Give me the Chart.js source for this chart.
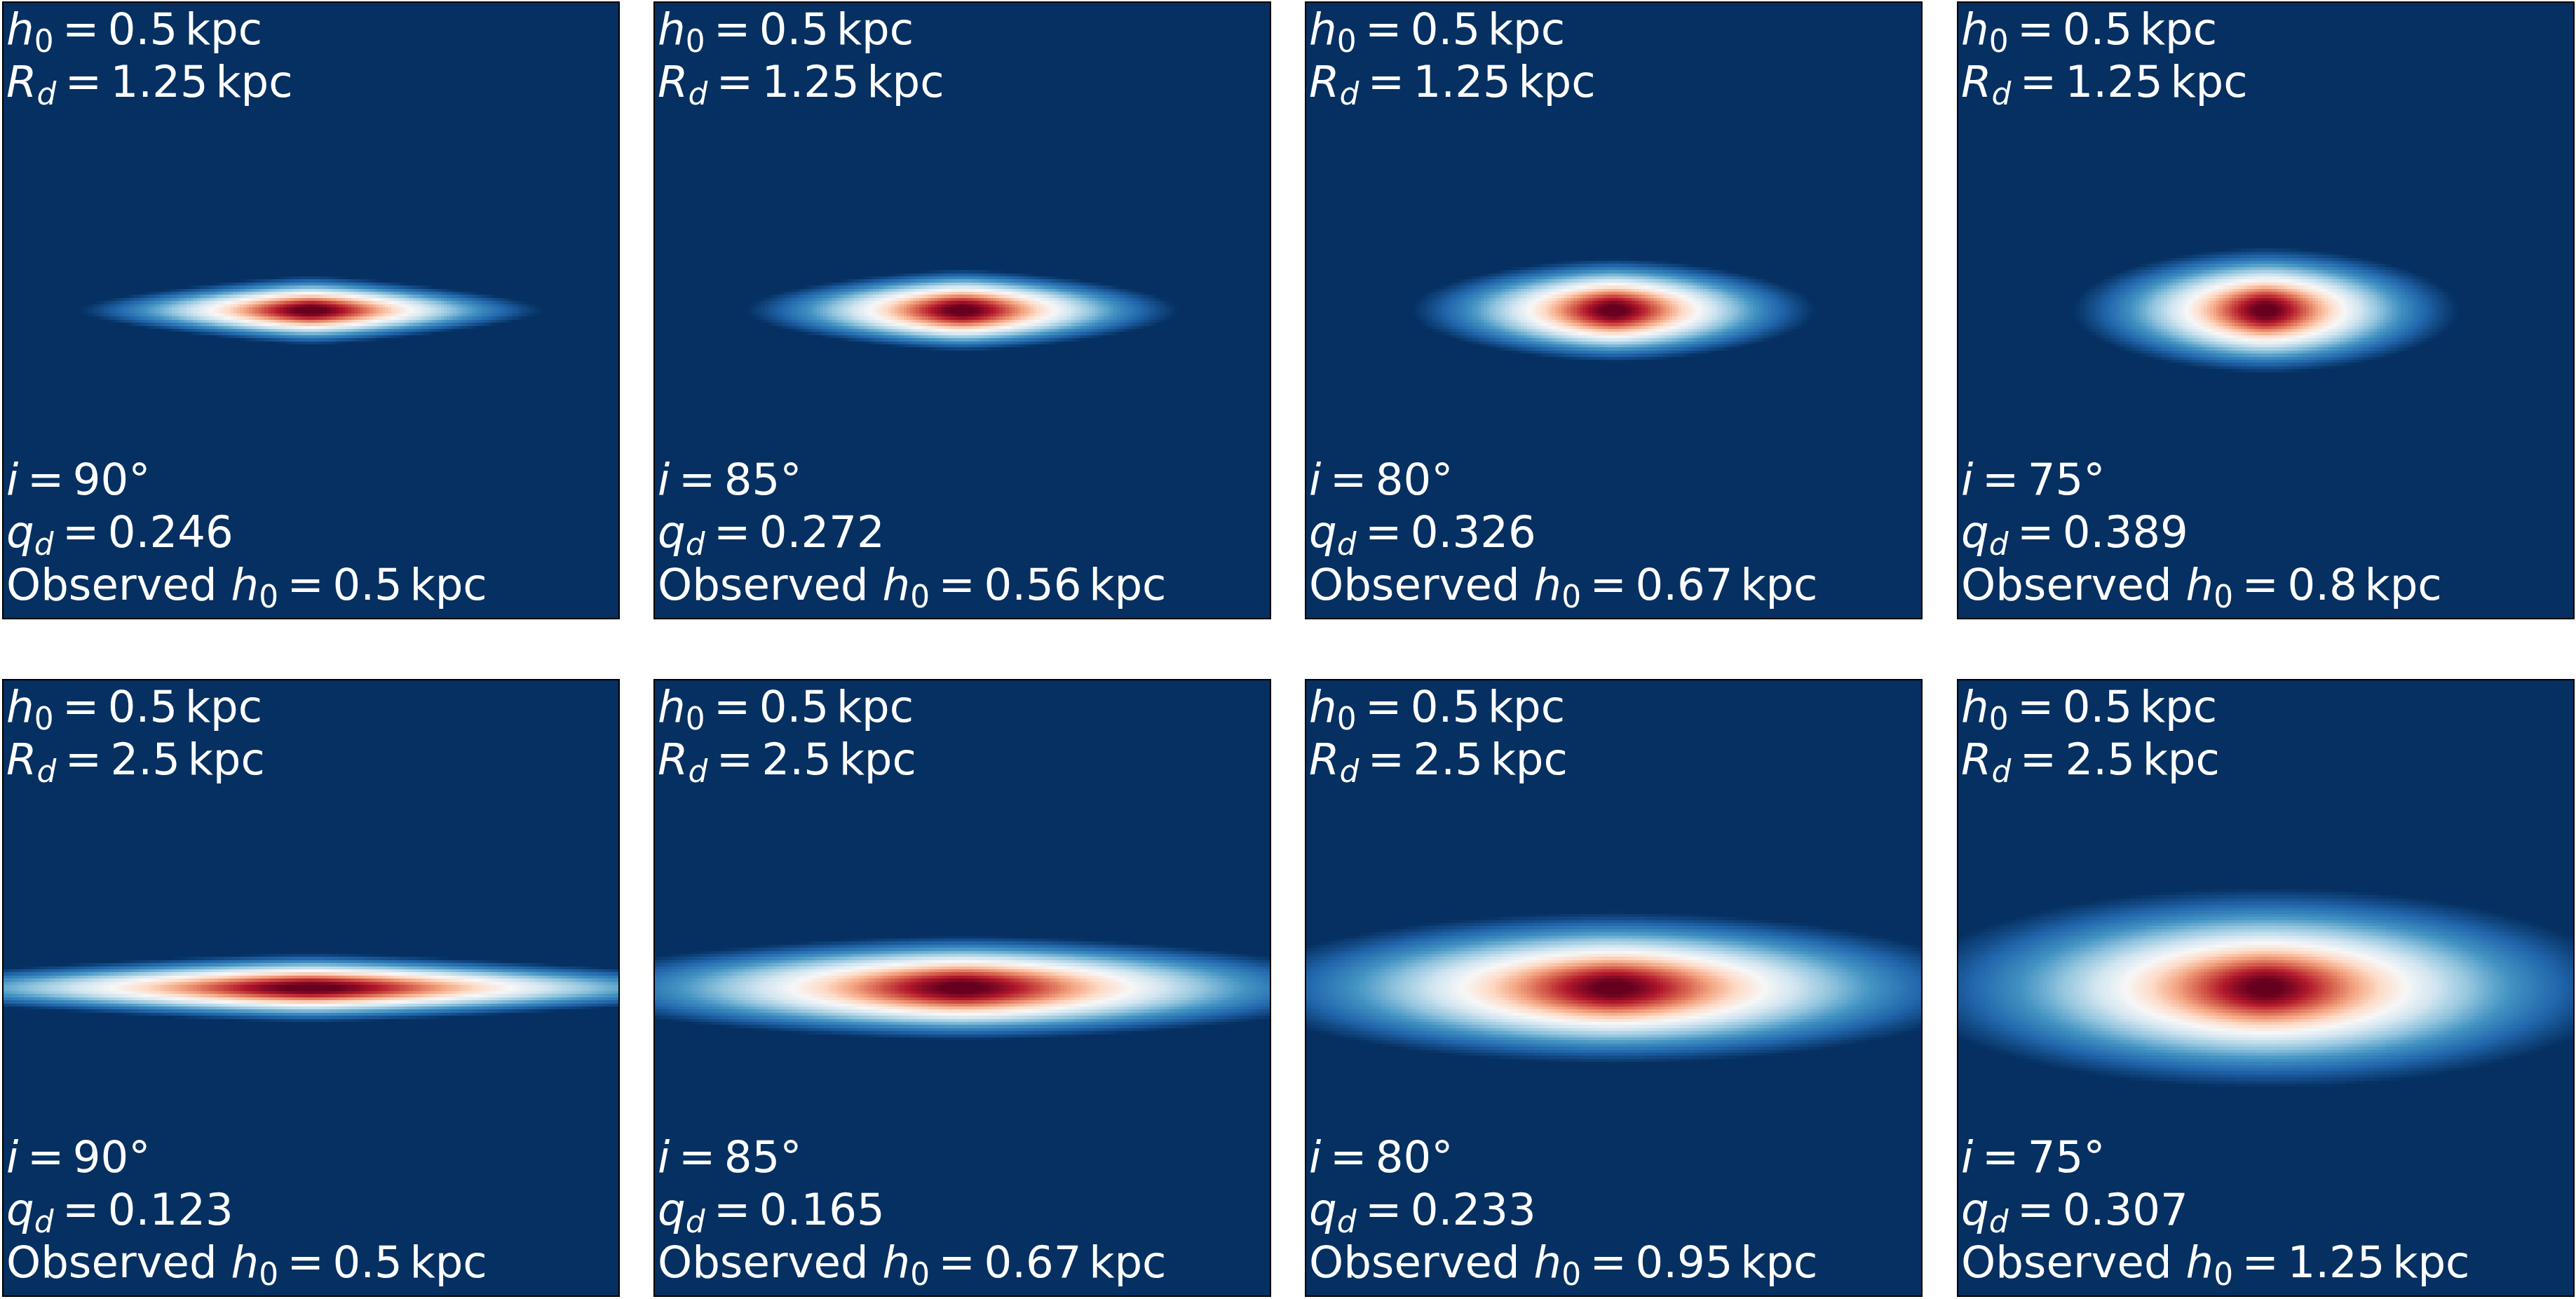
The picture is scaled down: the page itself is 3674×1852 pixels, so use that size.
<!DOCTYPE html>
<html>
<head>
<meta charset="utf-8">
<title>Inclined exponential disks</title>
<script src="https://cdn.jsdelivr.net/npm/chart.js"></script>
<style>
  html, body { margin: 0; padding: 0; background: #fff; }
  body { width: 3674px; height: 1852px; position: relative; overflow: hidden; }
  .panel { position: absolute; width: 881px; height: 881px; }
  .panel canvas { position: absolute; left: 0; top: 0; }
  .lbl {
    position: absolute; left: 6px; color: #fff; white-space: nowrap;
    font-family: "DejaVu Sans", sans-serif; font-size: 62.5px; line-height: 62.5px;
  }
  .lbl i { font-style: italic; }
  .lbl .sub { font-size: 0.7em; position: relative; top: 11px; }
  .lbl .eq { margin: 0 0.2em; }
  .lbl .unit { margin-left: 0.17em; }
</style>
</head>
<body>
<div id="grid"></div>
<script>
    // model parameters
    var inclinations = [90, 85, 80, 75];        // degrees, one per column
    var scaleLengths = [1.25, 2.5];             // R_d in kpc, one per row
    var scaleHeights = [0.5, 0.5];              // h_0 in kpc, one per row
    var qdTop = [0.246, 0.272, 0.326, 0.389];
    var qdBottom = [0.123, 0.165, 0.233, 0.307];
    var observedTop = [0.5, 0.56, 0.67, 0.8];
    var observedBottom = [0.5, 0.67, 0.95, 1.25];

    var GRID = 200;        // image pixels per side
    var HALF_FOV = 4.0;    // kpc, half width of each panel
    var CLIP_LOW = 0.2;    // lower colour limit as fraction of peak
    var CLIP_HIGH = 0.98;  // upper colour limit as fraction of peak
    var VERT = 0.39;       // vertical sech scale as fraction of h_0

    // RdBu_r colour table
    var rdbu = [
        [5, 48, 97], [33, 102, 172], [67, 147, 195], [146, 197, 222], [209, 229, 240],
        [247, 247, 247], [253, 219, 199], [244, 165, 130], [214, 96, 77], [178, 24, 43], [103, 0, 31]
    ];
    var lut = [];
    for (var k = 0; k < 256; k++) {
        var t = k / 255 * 10, j = Math.min(9, Math.floor(t)), f = t - j;
        lut.push(rdbu[j].map(function (c, m) { return Math.round(c + (rdbu[j + 1][m] - c) * f); }));
    }

    // line-of-sight projection of an exponential disk
    function diskImage(rd, h0, incDeg) {
        var n = GRID, L = HALF_FOV, z0 = VERT * h0;
        var inc = incDeg * Math.PI / 180, si = Math.sin(inc), ci = Math.cos(inc);
        var smax = 6 * rd + 4, steps = 320, ds = 2 * smax / steps;
        var img = new Float64Array(n * n), peak = 0;
        for (var r = 0; r < n; r++) {
            var y = L - (r + 0.5) * 2 * L / n;
            for (var c = 0; c < n / 2; c++) {
                var x = -L + (c + 0.5) * 2 * L / n, sum = 0;
                for (var s = -smax + ds / 2; s < smax; s += ds) {
                    var Y = s * si - y * ci, a = Math.abs(s * ci + y * si) / z0;
                    var e = Math.exp(-a);
                    sum += Math.exp(-Math.sqrt(x * x + Y * Y) / rd) * 2 * e / (1 + e * e);
                }
                img[r * n + c] = sum;
                img[r * n + n - 1 - c] = sum;
                if (sum > peak) peak = sum;
            }
        }
        var off = document.createElement('canvas');
        off.width = n; off.height = n;
        var octx = off.getContext('2d'), data = octx.createImageData(n, n);
        var vmin = CLIP_LOW * peak, vmax = CLIP_HIGH * peak;
        for (var p = 0; p < n * n; p++) {
            var v = (img[p] - vmin) / (vmax - vmin);
            var idx = Math.max(0, Math.min(255, Math.floor(v * 256)));
            data.data[p * 4] = lut[idx][0];
            data.data[p * 4 + 1] = lut[idx][1];
            data.data[p * 4 + 2] = lut[idx][2];
            data.data[p * 4 + 3] = 255;
        }
        octx.putImageData(data, 0, 0);
        return off;
    }

    var images = {};

    var diskPlugin = {
        id: 'diskImage',
        beforeDatasetsDraw: function (chart) {
            var xs = chart.scales.x, ys = chart.scales.y, ctx = chart.ctx;
            var left = xs.getPixelForValue(-HALF_FOV), right = xs.getPixelForValue(HALF_FOV);
            var top = ys.getPixelForValue(HALF_FOV), bottom = ys.getPixelForValue(-HALF_FOV);
            ctx.save();
            ctx.imageSmoothingEnabled = false;
            ctx.drawImage(images[chart.canvas.id], left, top, right - left, bottom - top);
            ctx.restore();
        },
        afterDraw: function (chart) {
            var a = chart.chartArea, ctx = chart.ctx;
            ctx.save();
            ctx.strokeStyle = '#000';
            ctx.lineWidth = 2;
            ctx.strokeRect(a.left + 1, a.top + 1, a.right - a.left - 2, a.bottom - a.top - 2);
            ctx.restore();
        }
    };

    function sym(name, sub) {
        return '<i>' + name + '</i><span class="sub">' + sub + '</span><span class="eq">=</span>';
    }

    var colX = [3, 932, 1861, 2791];
    var rowY = [2, 968];
    var grid = document.getElementById('grid');

    for (var row = 0; row < 2; row++) {
        var qd = row === 0 ? qdTop : qdBottom;
        var obs = row === 0 ? observedTop : observedBottom;
        for (var col = 0; col < 4; col++) {
            var panel = document.createElement('div');
            panel.className = 'panel';
            panel.style.left = colX[col] + 'px';
            panel.style.top = rowY[row] + 'px';
            var canvas = document.createElement('canvas');
            canvas.id = 'disk' + row + col;
            canvas.width = 881; canvas.height = 881;
            canvas.style.width = '881px'; canvas.style.height = '881px';
            panel.appendChild(canvas);

            var lines = [
                [62, sym('h', '0') + scaleHeights[row] + '<span class="unit">kpc</span>'],
                [137, sym('R', '<i>d</i>') + scaleLengths[row] + '<span class="unit">kpc</span>'],
                [704, '<i>i</i><span class="eq">=</span>' + inclinations[col] + '°'],
                [779, sym('q', '<i>d</i>') + qd[col]],
                [854, 'Observed ' + sym('h', '0') + obs[col] + '<span class="unit">kpc</span>']
            ];
            lines.forEach(function (ln) {
                var d = document.createElement('div');
                d.className = 'lbl';
                d.style.top = (ln[0] - 53) + 'px';
                d.innerHTML = ln[1];
                panel.appendChild(d);
            });
            grid.appendChild(panel);

            images[canvas.id] = diskImage(scaleLengths[row], scaleHeights[row], inclinations[col]);

            new Chart(canvas.getContext('2d'), {
                type: 'scatter',
                data: { datasets: [{ data: [], pointRadius: 0 }] },
                options: {
                    responsive: false,
                    animation: false,
                    events: [],
                    layout: { padding: 0 },
                    plugins: { legend: { display: false }, tooltip: { enabled: false } },
                    scales: {
                        x: { type: 'linear', min: -HALF_FOV, max: HALF_FOV, display: false },
                        y: { type: 'linear', min: -HALF_FOV, max: HALF_FOV, display: false }
                    }
                },
                plugins: [diskPlugin]
            });
        }
    }
</script>
</body>
</html>
